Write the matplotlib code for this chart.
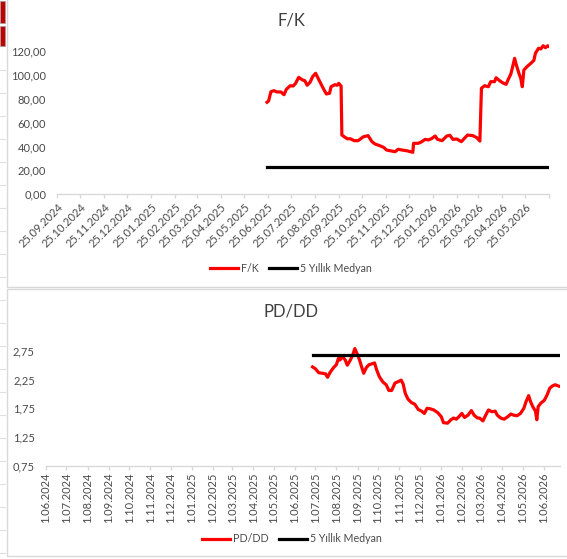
import matplotlib
matplotlib.use("Agg")
import matplotlib.pyplot as plt
import matplotlib.patches as mpatches
from matplotlib.lines import Line2D
import pandas as pd

plt.rcParams['font.family'] = ['Lato', 'DejaVu Sans']

# ---------------- data ----------------
fk_dates = ["2025-06-24", "2025-06-26", "2025-06-29", "2025-07-03", "2025-07-07", "2025-07-12",
            "2025-07-16", "2025-07-19", "2025-07-24", "2025-07-28", "2025-07-31", "2025-08-04",
            "2025-08-09", "2025-08-12", "2025-08-15", "2025-08-19", "2025-08-22", "2025-08-26",
            "2025-08-29", "2025-09-02", "2025-09-06", "2025-09-09", "2025-09-13", "2025-09-15",
            "2025-09-20", "2025-09-23", "2025-09-25", "2025-09-28", "2025-09-29", "2025-10-02",
            "2025-10-06", "2025-10-10", "2025-10-15", "2025-10-20", "2025-10-27", "2025-11-02",
            "2025-11-07", "2025-11-11", "2025-11-16", "2025-11-22", "2025-11-26", "2025-12-02",
            "2025-12-07", "2025-12-11", "2025-12-16", "2025-12-22", "2025-12-30", "2025-12-31",
            "2026-01-06", "2026-01-10", "2026-01-15", "2026-01-19", "2026-01-23", "2026-01-28",
            "2026-01-31", "2026-02-06", "2026-02-12", "2026-02-16", "2026-02-20", "2026-02-25",
            "2026-03-03", "2026-03-07", "2026-03-11", "2026-03-18", "2026-03-23", "2026-03-27",
            "2026-03-29", "2026-04-02", "2026-04-07", "2026-04-10", "2026-04-15", "2026-04-17",
            "2026-04-22", "2026-04-26", "2026-04-30", "2026-05-03", "2026-05-06", "2026-05-08",
            "2026-05-11", "2026-05-13", "2026-05-17", "2026-05-19", "2026-05-21", "2026-05-23",
            "2026-05-27", "2026-06-01", "2026-06-05", "2026-06-07", "2026-06-11", "2026-06-14",
            "2026-06-17", "2026-06-20", "2026-06-23", "2026-06-25"]
fk_values = [76.9, 78.0, 85.7, 86.6, 85.5, 85.5,
             83.2, 87.7, 90.7, 90.5, 92.7, 97.7,
             95.5, 94.9, 91.1, 93.8, 98.2, 101.1,
             97.2, 92.1, 87.1, 83.8, 84.4, 89.9,
             91.6, 91.1, 92.7, 90.5, 49.5, 48.1,
             46.4, 46.4, 44.8, 44.8, 48.1, 49.0,
             44.0, 42.0, 40.9, 39.3, 37.0, 36.2,
             35.6, 37.6, 37.0, 36.4, 35.1, 42.6,
             42.6, 43.7, 45.9, 45.4, 46.4, 48.7,
             45.9, 44.8, 48.7, 49.3, 45.9, 46.2,
             44.0, 46.8, 49.5, 49.0, 47.3, 44.5,
             88.6, 90.7, 89.9, 94.1, 94.1, 97.4,
             94.7, 93.0, 91.9, 96.3, 100.3, 105.3,
             113.6, 108.6, 100.3, 96.9, 89.9, 103.8,
             106.6, 109.4, 111.9, 117.8, 122.0, 121.4,
             124.1, 122.5, 124.1, 123.3]
fk_median = 22.6

pd_dates = ["2025-06-27", "2025-07-01", "2025-07-06", "2025-07-11", "2025-07-16", "2025-07-19",
            "2025-07-23", "2025-07-28", "2025-08-01", "2025-08-04", "2025-08-06", "2025-08-10",
            "2025-08-14", "2025-08-17", "2025-08-21", "2025-08-25", "2025-08-28", "2025-08-31",
            "2025-09-04", "2025-09-07", "2025-09-10", "2025-09-14", "2025-09-18", "2025-09-21",
            "2025-09-26", "2025-09-29", "2025-10-03", "2025-10-08", "2025-10-13", "2025-10-17",
            "2025-10-21", "2025-10-26", "2025-10-30", "2025-11-04", "2025-11-07", "2025-11-10",
            "2025-11-14", "2025-11-19", "2025-11-24", "2025-11-29", "2025-12-04", "2025-12-08",
            "2025-12-12", "2025-12-17", "2025-12-22", "2025-12-28", "2026-01-02", "2026-01-05",
            "2026-01-11", "2026-01-16", "2026-01-20", "2026-01-24", "2026-01-29", "2026-02-01",
            "2026-02-05", "2026-02-10", "2026-02-15", "2026-02-19", "2026-02-24", "2026-02-27",
            "2026-03-04", "2026-03-08", "2026-03-12", "2026-03-17", "2026-03-22", "2026-03-25",
            "2026-03-30", "2026-04-04", "2026-04-09", "2026-04-14", "2026-04-18", "2026-04-23",
            "2026-04-28", "2026-05-03", "2026-05-06", "2026-05-10", "2026-05-13", "2026-05-16",
            "2026-05-20", "2026-05-22", "2026-05-24", "2026-05-28", "2026-06-02", "2026-06-06",
            "2026-06-10", "2026-06-14", "2026-06-18", "2026-06-22", "2026-06-25"]
pd_values = [2.47, 2.44, 2.37, 2.36, 2.35, 2.29,
             2.38, 2.46, 2.51, 2.62, 2.59, 2.65,
             2.59, 2.50, 2.58, 2.68, 2.79, 2.71,
             2.59, 2.47, 2.36, 2.46, 2.51, 2.52,
             2.54, 2.42, 2.30, 2.21, 2.16, 2.06,
             2.06, 2.19, 2.21, 2.24, 2.17, 2.01,
             1.91, 1.85, 1.82, 1.73, 1.70, 1.66,
             1.75, 1.74, 1.72, 1.67, 1.60, 1.50,
             1.49, 1.55, 1.58, 1.56, 1.62, 1.66,
             1.59, 1.63, 1.71, 1.63, 1.58, 1.58,
             1.53, 1.63, 1.72, 1.69, 1.70, 1.63,
             1.58, 1.56, 1.60, 1.65, 1.63, 1.62,
             1.66, 1.75, 1.86, 1.97, 1.86, 1.78,
             1.70, 1.55, 1.78, 1.84, 1.89, 1.98,
             2.10, 2.14, 2.16, 2.14, 2.13]
pd_median = 2.67

fk_yticks = [0, 20, 40, 60, 80, 100, 120]
pd_yticks = [0.75, 1.25, 1.75, 2.25, 2.75]

fk_title = "F/K"
pd_title = "PD/DD"
median_label = "5 Yıllık Medyan"

# ---------------- figure ----------------
W, H = 567, 559
fig = plt.figure(figsize=(W / 100, H / 100), dpi=100)
fig.patch.set_facecolor("white")

def fx(px):
    return px / W

def fy(py):
    return 1 - py / H

# spreadsheet fragments at the left edge
for (y0, y1) in [(1, 23), (26, 46)]:
    fig.patches.append(mpatches.Rectangle((0, fy(y1)), fx(4.5), (y1 - y0) / H,
                                          transform=fig.transFigure, facecolor="#c00000",
                                          edgecolor="#a0a0a0", lw=0.5))
for yy in [70, 93, 116, 139, 162, 185, 208, 231, 254, 277, 300, 323, 346, 369, 392,
           415, 438, 461, 484, 507, 530, 553]:
    fig.add_artist(Line2D([0, fx(5)], [fy(yy), fy(yy)], transform=fig.transFigure,
                          color="#e0e0e0", lw=0.8))

# chart frames
fig.patches.append(mpatches.Rectangle((fx(6.5), fy(286.5)), 1, (286.5 + 2) / H,
                                      transform=fig.transFigure, facecolor="none",
                                      edgecolor="#d9d9d9", lw=1.0))
fig.patches.append(mpatches.Rectangle((fx(6.5), fy(556)), 1, (556 - 289) / H,
                                      transform=fig.transFigure, facecolor="none",
                                      edgecolor="#d9d9d9", lw=1.0))

txt_color = "#4a4a4a"
fs = 8
lfs = 7.7

def fmt_comma(v, nd=2):
    return f"{v:.{nd}f}".replace(".", ",")

def style_axes(ax):
    for s in ["top", "right", "left"]:
        ax.spines[s].set_visible(False)
    ax.spines["bottom"].set_color("#d9d9d9")
    ax.spines["bottom"].set_linewidth(1.0)
    ax.tick_params(axis="y", length=0, pad=8, labelsize=fs, labelcolor=txt_color)
    ax.tick_params(axis="x", length=3, color="#d9d9d9", width=1.0, labelsize=fs,
                   labelcolor=txt_color, pad=2)
    ax.set_facecolor("none")

# ---------------- top chart: F/K ----------------
ax1 = fig.add_axes([fx(57.3), fy(194.3), fx(549.3) - fx(57.3), (194.3 - 38.7) / H])
d1 = pd.to_datetime(fk_dates)
ax1.plot(d1, fk_values, color="#ff0000", lw=2.3, solid_joinstyle="round", label=fk_title)
ax1.plot([d1[0], d1[-1]], [fk_median, fk_median], color="#000000", lw=2.3, label=median_label)
ax1.set_ylim(0, 130)
ax1.set_yticks(fk_yticks)
ax1.set_yticklabels([fmt_comma(v) for v in fk_yticks])
xt1 = pd.date_range("2024-09-25", "2026-06-25", freq=pd.DateOffset(months=1))
ax1.set_xlim(pd.Timestamp("2024-09-25"), pd.Timestamp("2026-06-25"))
ax1.set_xticks(xt1)
lab1 = [d.strftime("%d.%m.%Y") for d in xt1]
lab1[-1] = ""
ax1.set_xticklabels(lab1, rotation=45, ha="right", va="top", rotation_mode="anchor")
style_axes(ax1)
ax1.legend(loc="center", bbox_to_anchor=(fx(291), fy(268)), bbox_transform=fig.transFigure,
           ncol=2, frameon=False, fontsize=lfs, handlelength=2.6, handletextpad=0.3,
           columnspacing=1.0, labelcolor=txt_color)
fig.text(fx(291), fy(20), fk_title, ha="center", va="center", fontsize=12, color="#404040")

# ---------------- bottom chart: PD/DD ----------------
ax2 = fig.add_axes([fx(46), fy(465.7), fx(560) - fx(46), (465.7 - 336.5) / H])
d2 = pd.to_datetime(pd_dates)
ax2.plot(d2, pd_values, color="#ff0000", lw=2.3, solid_joinstyle="round", label=pd_title)
ax2.plot([d2[0], d2[-1]], [pd_median, pd_median], color="#000000", lw=2.3, label=median_label)
ax2.set_ylim(0.75, 3.0)
ax2.set_yticks(pd_yticks)
ax2.set_yticklabels([fmt_comma(v) for v in pd_yticks])
xt2 = pd.date_range("2024-06-01", "2026-06-01", freq="MS")
ax2.set_xlim(pd.Timestamp("2024-06-01"), pd.Timestamp("2026-06-25"))
ax2.set_xticks(xt2)
ax2.set_xticklabels([f"{d.day}.{d.month:02d}.{d.year}" for d in xt2], rotation=90,
                    ha="center", va="top")
style_axes(ax2)
ax2.legend(loc="center", bbox_to_anchor=(fx(292), fy(539)), bbox_transform=fig.transFigure,
           ncol=2, frameon=False, fontsize=lfs, handlelength=2.6, handletextpad=0.3,
           columnspacing=1.0, labelcolor=txt_color)
fig.text(fx(291), fy(311.5), pd_title, ha="center", va="center", fontsize=12, color="#404040")

fig.savefig("out.png", dpi=100)
